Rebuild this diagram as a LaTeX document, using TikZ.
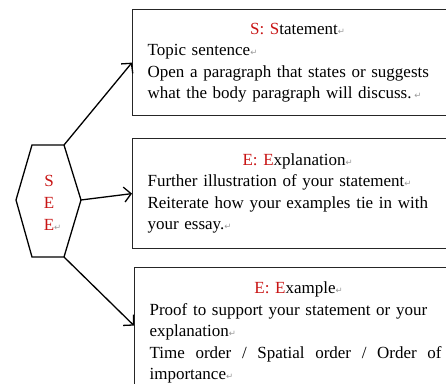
\documentclass[tikz,border=0pt]{standalone}
\usepackage{fontspec}
\setmainfont{Liberation Serif}
\newfontfamily\symfont{DejaVu Sans}
\usetikzlibrary{arrows.meta}
\definecolor{seered}{RGB}{200,20,20}
\newcommand\retmark{{\symfont\color{black!40}\fontsize{8.5}{8.5}\selectfont ↵}}
\newcommand\rd[1]{{\color{seered}#1}}
\tikzset{
  sbox/.style={draw=black!85, line width=1.2pt, anchor=north west, rectangle,
    inner xsep=15pt, inner ysep=0pt, text width=300pt, align=left,
    font=\fontsize{17}{21.5}\selectfont},
  hexline/.style={draw=black, line width=1.3pt, line join=miter},
  conn/.style={draw=black, line width=1.3pt, -{Straight Barb[length=7pt,width=15pt,line width=1.3pt]}},
}
\begin{document}
\begin{tikzpicture}[x=1pt,y=1pt]
\useasboundingbox (0,0) rectangle (446,383);
% hexagon
\coordinate (hTL) at (32,238);
\coordinate (hTR) at (64,238);
\coordinate (hR) at (81,183);
\coordinate (hBR) at (64,126);
\coordinate (hBL) at (32,126);
\coordinate (hL) at (16,183);
\draw[hexline] (hTL) -- (hTR) -- (hR) -- (hBR) -- (hBL) -- (hL) -- cycle;
\node[align=center, text=seered, font=\fontsize{17}{22}\selectfont] (see) at (49,180) {S\\E\\E\rlap{\retmark}};
% boxes
\node[sbox, minimum height=106pt] (box1) at (132,374) {%
  \centering\rd{S: S}tatement\retmark\par
  \raggedright Topic sentence\retmark\\
  Open a paragraph that states or suggests\\
  what the body paragraph will discuss.\,\retmark};
\node[sbox, minimum height=110pt] (box2) at (132,245) {%
  \centering\rd{E: E}xplanation\retmark\par
  \raggedright Further illustration of your statement\retmark\\
  Reiterate how your examples tie in with\\
  your essay.\retmark};
\node[sbox, minimum height=130pt, text width=298pt] (box3) at (134,116) {%
  \centering\rd{E: E}xample\retmark\par
  \raggedright Proof to support your statement or your\\
  explanation\retmark\\
  \leavevmode\hbox to 292pt{Time\hfill order\hfill /\hfill Spatial\hfill order\hfill /\hfill Order\hfill of}\\
  importance\retmark};
% connectors
\draw[conn] (hTR) -- (box1.west);
\draw[conn] (hR) -- (box2.west);
\draw[conn] (hBR) -- ([yshift=7pt]box3.west);
\end{tikzpicture}
\end{document}
